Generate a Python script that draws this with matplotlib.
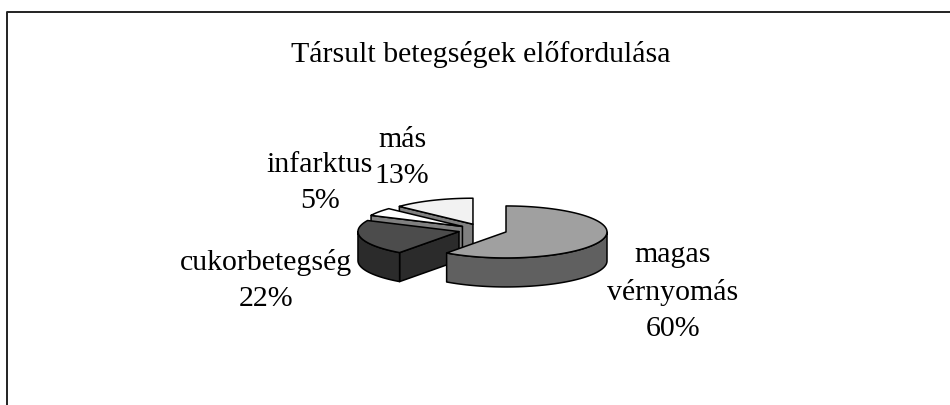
import numpy as np
from matplotlib import pyplot as plt
from matplotlib.patches import Polygon

plt.rcParams['font.family'] = ['Liberation Serif', 'DejaVu Serif']

title = "Társult betegségek előfordulása"
labels = ["magas\nvérnyomás\n60%", "cukorbetegség\n22%", "infarktus\n5%", "más\n13%"]
values = [60, 22, 5, 13]
top_colors = ["#a0a0a0", "#4c4c4c", "#ffffff", "#f2f2f2"]
side_colors = ["#606060", "#2b2b2b", "#808080", "#808080"]
label_pos = [(673, 292), (266, 280), (320, 183), (402, 158)]

cx, cy = 482.7, 230
a, b = 101, 26
depth = 29
explode = 24.5


def pt(ox, oy, deg):
    # clockwise from 12 o'clock, y axis points down
    t = np.radians(deg)
    return ox + a * np.sin(t), oy - b * np.cos(t)


def arc(ox, oy, d1, d2):
    t = np.linspace(d1, d2, 80)
    x, y = pt(ox, oy, t)
    return np.column_stack([x, y])


def poly(ax, points, color, z):
    ax.add_patch(Polygon(points, closed=True, fc=color, ec="black", lw=1.1, joinstyle="round", zorder=z))


fig = plt.figure(figsize=(9.5, 4.05), dpi=100)
ax = fig.add_axes([0, 0, 1, 1])
ax.set_xlim(0, 950)
ax.set_ylim(405, 0)
ax.axis("off")

# border: only left and top are in the picture
ax.plot([7, 7, 950], [405, 12, 12], color="#222222", lw=1.4, zorder=1)

starts = 360 * np.cumsum([0] + values[:-1]) / sum(values)
ends = 360 * np.cumsum(values) / sum(values)

# back slices first so the front ones cover them
z = 2
for i in [3, 2, 1, 0]:
    s, e = starts[i], ends[i]
    mid = np.radians((s + e) / 2)
    ox = cx + explode * np.sin(mid)
    oy = cy - explode * np.cos(mid) * b / a
    apex = np.array([[ox, oy]])
    down = np.array([0, depth])

    # cut faces, only those turned to the viewer
    if np.sin(np.radians(s)) < -1e-9:
        p = np.array([pt(ox, oy, s)])
        poly(ax, np.vstack([apex, p, p + down, apex + down]), side_colors[i], z)
        z += 1
    if np.sin(np.radians(e)) > 1e-9:
        p = np.array([pt(ox, oy, e)])
        poly(ax, np.vstack([apex, p, p + down, apex + down]), side_colors[i], z)
        z += 1

    # outer wall, only the part facing the viewer
    w1, w2 = max(s, 90), min(e, 270)
    if w2 > w1:
        rim = arc(ox, oy, w1, w2)
        poly(ax, np.vstack([rim, rim[::-1] + down]), side_colors[i], z)
        z += 1

    poly(ax, np.vstack([apex, arc(ox, oy, s, e)]), top_colors[i], z)
    z += 1

for lab, (x, y) in zip(labels, label_pos):
    ax.text(x, y, lab, ha="center", va="center", fontsize=21.5, linespacing=1.5, color="black", zorder=50)

ax.text(481, 55, title, ha="center", va="center", fontsize=21.5, color="black", zorder=50)

fig.savefig("out.png", dpi=100)
